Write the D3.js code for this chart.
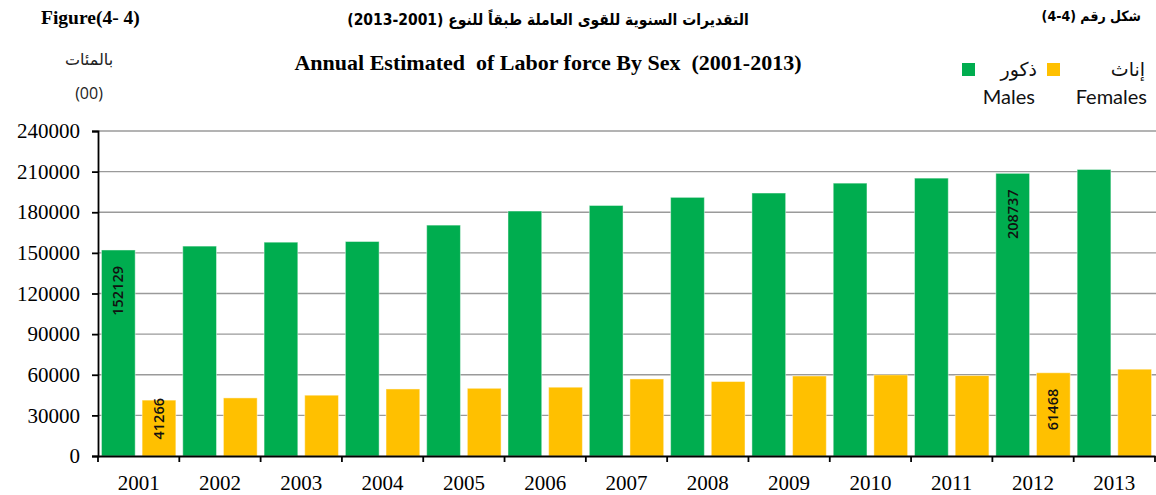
<!DOCTYPE html>
<html>
<head>
<meta charset="utf-8">
<script src="https://cdn.jsdelivr.net/npm/d3@7"></script>
<style>
  body { margin: 0; background: #fff; }
  #chart svg { display: block; }
</style>
</head>
<body>
<div id="chart"></div>
<script>
// data (hundreds)
var years = ["2001","2002","2003","2004","2005","2006","2007","2008","2009","2010","2011","2012","2013"]
var males = [152129,155000,157900,158400,170500,180900,185000,191000,194200,201500,205200,208737,211600]
var females = [41266,42900,44900,49500,50000,50800,56900,55000,59100,59900,59400,61468,64100]
var yTicks = [0,30000,60000,90000,120000,150000,180000,210000,240000]
var labelledYears = ["2001","2012"]

var series = [
  {key: "m", name: "Males", ar: "ذكور", color: "#00AD4F", values: males},
  {key: "f", name: "Females", ar: "إناث", color: "#FFC000", values: females}
]

var W = 1156, H = 495
var plotLeft = 98, plotRight = 1155, plotTop = 131, plotBottom = 456

var svg = d3.select("#chart").append("svg")
  .attr("width", W)
  .attr("height", H)

var x = d3.scaleBand()
  .domain(years)
  .range([plotLeft, plotRight])

var x1 = d3.scaleBand()
  .domain(series.map(function(s){ return s.key }))
  .range([0, x.bandwidth()])
  .paddingInner(0.17)
  .paddingOuter(0.085)

var y = d3.scaleLinear()
  .domain([0, 240000])
  .range([plotBottom, plotTop])

// gridlines
svg.append("g")
  .selectAll("line")
  .data(yTicks.filter(function(d){ return d > 0 }))
  .enter().append("line")
  .attr("x1", plotLeft).attr("x2", plotRight + 1)
  .attr("y1", function(d){ return y(d) }).attr("y2", function(d){ return y(d) })
  .attr("stroke", "#9a9a9a")
  .attr("stroke-width", 1.3)

// bars
var groups = svg.append("g").selectAll(".yr")
  .data(years)
  .enter().append("g")
  .attr("transform", function(d){ return "translate(" + x(d) + ",0)" })

series.forEach(function(s){
  groups.append("rect")
    .attr("x", x1(s.key))
    .attr("width", x1.bandwidth())
    .attr("y", function(d, i){ return y(s.values[i]) })
    .attr("height", function(d, i){ return plotBottom - y(s.values[i]) })
    .attr("fill", s.color)
    .attr("stroke", "rgba(255,255,255,0.45)")
    .attr("stroke-width", 1)
})

// data labels (rotated, inside end)
series.forEach(function(s){
  groups.filter(function(d){ return labelledYears.indexOf(d) >= 0 })
    .append("text")
    .attr("transform", function(d){
      var v = s.values[years.indexOf(d)]
      var ty = Math.min(y(v) + 16, plotBottom - 58)
      var tx = x1(s.key) + x1.bandwidth() / 2
      return "translate(" + (tx + 5) + "," + ty + ") rotate(-90)"
    })
    .attr("text-anchor", "end")
    .style("font-family", "'Open Sans', sans-serif")
    .style("font-weight", 600)
    .style("font-size", "14.5px")
    .attr("fill", "#111")
    .text(function(d){ return s.values[years.indexOf(d)] })
})

// y axis
var yaxis = svg.append("g")
  .attr("transform", "translate(" + plotLeft + ",0)")
  .call(d3.axisLeft(y).tickValues(yTicks).tickSize(6).tickPadding(12).tickFormat(d3.format("d")))
yaxis.select(".domain").attr("stroke", "#000").attr("stroke-width", 1.8)
yaxis.selectAll(".tick line").attr("stroke", "#000").attr("stroke-width", 1.8)
yaxis.selectAll("text")
  .style("font-family", "'Liberation Serif', 'Times New Roman', serif")
  .style("font-size", "21px")
  .attr("fill", "#000")

// x axis
var xaxis = svg.append("g")
  .attr("transform", "translate(0," + plotBottom + ")")
  .call(d3.axisBottom(x).tickSize(0).tickPadding(19))
xaxis.select(".domain").attr("stroke", "#000").attr("stroke-width", 1.8)
xaxis.selectAll("text")
  .style("font-family", "'Liberation Serif', 'Times New Roman', serif")
  .style("font-size", "21px")
  .attr("fill", "#000")
xaxis.append("g").selectAll("line")
  .data(years.map(function(d){ return x(d) }).concat([x(years[years.length-1]) + x.bandwidth()]))
  .enter().append("line")
  .attr("x1", function(d){ return d }).attr("x2", function(d){ return d })
  .attr("y1", 0).attr("y2", 6)
  .attr("stroke", "#000")
  .attr("stroke-width", 1.8)

// titles
var serif = "'Liberation Serif', 'Times New Roman', serif"
var arabic = "'DejaVu Sans Condensed', 'DejaVu Sans', sans-serif"
svg.append("text")
  .attr("x", 41).attr("y", 24)
  .style("font-family", serif).style("font-weight", "bold").style("font-size", "19.5px")
  .style("white-space", "pre")
  .text("Figure(4- 4)")

svg.append("text")
  .attr("x", 548).attr("y", 25)
  .attr("text-anchor", "middle")
  .style("font-family", arabic).style("font-stretch", "condensed").style("font-weight", "bold").style("font-size", "15.5px")
  .text("التقديرات السنوية للقوى العاملة طبقاً للنوع (2001-2013)")

svg.append("text")
  .attr("x", 1141).attr("y", 21)
  .attr("text-anchor", "end")
  .style("font-family", arabic).style("font-stretch", "condensed").style("font-weight", "bold").style("font-size", "14px")
  .text("شكل رقم (4-4)")

svg.append("text")
  .attr("x", 548).attr("y", 70)
  .attr("text-anchor", "middle")
  .style("font-family", serif).style("font-weight", "bold").style("font-size", "22px")
  .style("white-space", "pre")
  .text("Annual Estimated  of Labor force By Sex  (2001-2013)")

svg.append("text")
  .attr("x", 89).attr("y", 65)
  .attr("text-anchor", "middle")
  .style("font-family", "'DejaVu Sans', sans-serif").style("font-size", "16px")
  .attr("fill", "#222")
  .text("بالمئات")

svg.append("text")
  .attr("x", 89).attr("y", 99)
  .attr("text-anchor", "middle")
  .style("font-family", "'Open Sans', sans-serif").style("font-size", "16px")
  .attr("fill", "#222")
  .text("(00)")

// legend
var legendX = [962, 1047]
var legend = svg.append("g").selectAll(".lg")
  .data(series)
  .enter().append("g")
  .attr("transform", function(d, i){ return "translate(" + legendX[i] + ",63)" })
legend.append("rect")
  .attr("width", 13).attr("height", 13)
  .attr("fill", function(d){ return d.color })
legend.append("text")
  .attr("x", function(d, i){ return i == 0 ? 75 : 98 })
  .attr("y", 13)
  .attr("text-anchor", "end")
  .style("font-family", "'DejaVu Sans', sans-serif").style("font-size", "19px")
  .attr("fill", "#111")
  .text(function(d){ return d.ar })
legend.append("text")
  .attr("x", function(d, i){ return i == 0 ? 73 : 100 })
  .attr("y", 41)
  .attr("text-anchor", "end")
  .style("font-family", "Lato, 'Open Sans', sans-serif").style("font-size", "20px")
  .attr("fill", "#111")
  .text(function(d){ return d.name })
</script>
</body>
</html>
